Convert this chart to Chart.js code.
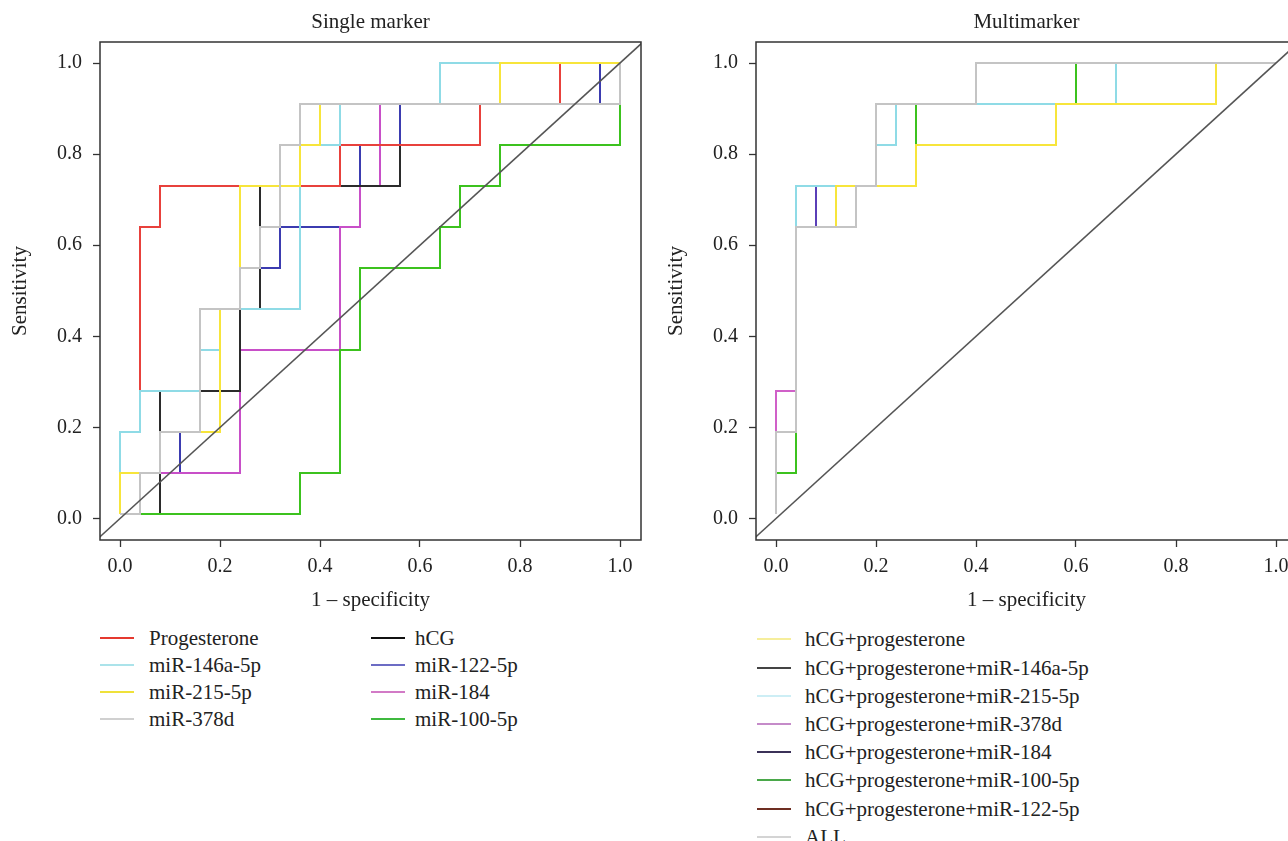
<!DOCTYPE html>
<html>
<head>
<meta charset="utf-8">
<title>ROC curves</title>
<script src="https://cdn.jsdelivr.net/npm/chart.js"></script>
<style>
  html, body { margin: 0; padding: 0; background: #fff; }
  body { position: relative; width: 1288px; height: 841px; overflow: hidden; font-family: 'Liberation Serif', 'DejaVu Serif', serif; color: #222; }
  canvas { position: absolute; top: 0; }
  #singleChart { left: 0; }
  #multiChart { left: 656px; }
  .legendRow { position: absolute; height: 26px; line-height: 26px; font-size: 21px; white-space: nowrap; }
  .legendLine { position: absolute; width: 34px; height: 0; border-top: 2px solid; }
</style>
</head>
<body>
<canvas id="singleChart" width="660" height="613"></canvas>
<canvas id="multiChart" width="660" height="613"></canvas>
<div id="singleLegend"></div>
<div id="multiLegend"></div>
<script>
'use strict';

// Axis ticks and the chance line
const tickValues = [0, 0.2, 0.4, 0.6, 0.8, 1.0];
const chanceLine = [-0.1, 1.1];

// Single marker curves: x = 1 - specificity, y = sensitivity
const singleLabels = ['Progesterone', 'miR-146a-5p', 'miR-215-5p', 'miR-378d', 'hCG', 'miR-122-5p', 'miR-184', 'miR-100-5p'];

const progesteroneX = [0, 0, 0.04, 0.04, 0.08, 0.08, 0.44, 0.44, 0.72, 0.72, 0.88, 0.88, 1];
const progesteroneY = [0.01, 0.19, 0.19, 0.64, 0.64, 0.73, 0.73, 0.82, 0.82, 0.91, 0.91, 1, 1];

const mir146aX = [0, 0, 0.04, 0.04, 0.16, 0.16, 0.2, 0.2, 0.36, 0.36, 0.44, 0.44, 0.64, 0.64, 1];
const mir146aY = [0.01, 0.19, 0.19, 0.28, 0.28, 0.37, 0.37, 0.46, 0.46, 0.82, 0.82, 0.91, 0.91, 1, 1];

const mir215X = [0, 0, 0.08, 0.08, 0.2, 0.2, 0.24, 0.24, 0.36, 0.36, 0.4, 0.4, 0.76, 0.76, 1];
const mir215Y = [0.01, 0.1, 0.1, 0.19, 0.19, 0.46, 0.46, 0.73, 0.73, 0.82, 0.82, 0.91, 0.91, 1, 1];

const mir378X = [0, 0.04, 0.04, 0.08, 0.08, 0.16, 0.16, 0.24, 0.24, 0.28, 0.28, 0.32, 0.32, 0.36, 0.36, 1, 1];
const mir378Y = [0.01, 0.01, 0.1, 0.1, 0.19, 0.19, 0.46, 0.46, 0.55, 0.55, 0.64, 0.64, 0.82, 0.82, 0.91, 0.91, 1];

const hcgX = [0, 0.08, 0.08, 0.24, 0.24, 0.28, 0.28, 0.56, 0.56, 0.72, 0.72, 1, 1];
const hcgY = [0.01, 0.01, 0.28, 0.28, 0.46, 0.46, 0.73, 0.73, 0.82, 0.82, 0.91, 0.91, 1];

const mir122X = [0, 0.08, 0.08, 0.12, 0.12, 0.16, 0.16, 0.28, 0.28, 0.32, 0.32, 0.48, 0.48, 0.56, 0.56, 0.96, 0.96, 1];
const mir122Y = [0.01, 0.01, 0.1, 0.1, 0.19, 0.19, 0.46, 0.46, 0.55, 0.55, 0.64, 0.64, 0.82, 0.82, 0.91, 0.91, 1, 1];

const mir184X = [0, 0.08, 0.08, 0.24, 0.24, 0.44, 0.44, 0.48, 0.48, 0.52, 0.52, 1, 1];
const mir184Y = [0.01, 0.01, 0.1, 0.1, 0.37, 0.37, 0.64, 0.64, 0.73, 0.73, 0.91, 0.91, 1];

const mir100X = [0, 0.36, 0.36, 0.44, 0.44, 0.48, 0.48, 0.64, 0.64, 0.68, 0.68, 0.76, 0.76, 1, 1];
const mir100Y = [0.01, 0.01, 0.1, 0.1, 0.37, 0.37, 0.55, 0.55, 0.64, 0.64, 0.73, 0.73, 0.82, 0.82, 1];

// Multimarker curves
const multiLabels = ['hCG+progesterone', 'hCG+progesterone+miR-146a-5p', 'hCG+progesterone+miR-215-5p', 'hCG+progesterone+miR-378d',
  'hCG+progesterone+miR-184', 'hCG+progesterone+miR-100-5p', 'hCG+progesterone+miR-122-5p', 'ALL'];

const hcgProgX = [0, 0, 0.04, 0.04, 0.12, 0.12, 0.28, 0.28, 0.56, 0.56, 0.88, 0.88, 1];
const hcgProgY = [0.01, 0.19, 0.19, 0.64, 0.64, 0.73, 0.73, 0.82, 0.82, 0.91, 0.91, 1, 1];

const plus146aX = [0, 0, 0.04, 0.04, 0.16, 0.16, 0.2, 0.2, 0.4, 0.4, 1];
const plus146aY = [0.01, 0.19, 0.19, 0.64, 0.64, 0.73, 0.73, 0.91, 0.91, 1, 1];

const plus215X = [0, 0, 0.04, 0.04, 0.2, 0.2, 0.24, 0.24, 0.68, 0.68, 1];
const plus215Y = [0.01, 0.19, 0.19, 0.73, 0.73, 0.82, 0.82, 0.91, 0.91, 1, 1];

const plus378X = [0, 0, 0.04, 0.04, 0.16, 0.16, 0.2, 0.2, 0.4, 0.4, 1];
const plus378Y = [0.01, 0.28, 0.28, 0.64, 0.64, 0.73, 0.73, 0.91, 0.91, 1, 1];

const plus184X = [0, 0, 0.04, 0.04, 0.08, 0.08, 0.2, 0.2, 0.4, 0.4, 1];
const plus184Y = [0.01, 0.19, 0.19, 0.64, 0.64, 0.73, 0.73, 0.91, 0.91, 1, 1];

const plus100X = [0, 0, 0.04, 0.04, 0.16, 0.16, 0.28, 0.28, 0.6, 0.6, 1];
const plus100Y = [0.01, 0.1, 0.1, 0.64, 0.64, 0.73, 0.73, 0.91, 0.91, 1, 1];

const plus122X = [0, 0, 0.04, 0.04, 0.16, 0.16, 0.2, 0.2, 0.4, 0.4, 1];
const plus122Y = [0.01, 0.19, 0.19, 0.64, 0.64, 0.73, 0.73, 0.91, 0.91, 1, 1];

const allX = [0, 0, 0.04, 0.04, 0.16, 0.16, 0.2, 0.2, 0.4, 0.4, 1];
const allY = [0.01, 0.19, 0.19, 0.64, 0.64, 0.73, 0.73, 0.91, 0.91, 1, 1];

// Styles
const fontFamily = "'Liberation Serif', 'DejaVu Serif', serif";
const textColor = '#222';
const singleLineColors = ['#e8413c', '#8fdbe6', '#f7e53b', '#c4c4c4', '#2b2b2b', '#3b3bb0', '#c84fc8', '#3cc21e'];
const singleLegendColors = ['#e5392f', '#abe3ea', '#efe13a', '#d0d0d0', '#111111', '#6c6cc4', '#d27ac6', '#3fb93f'];
const singleDrawOrder = [5, 4, 3, 1, 6, 8, 7, 2];
const multiLineColors = ['#f7e53b', '#333333', '#8fdbe6', '#d060c8', '#5a3fb8', '#3cc21e', '#7a2a20', '#c4c4c4'];
const multiLegendColors = ['#f6ee9c', '#444444', '#cdeef5', '#c58bc9', '#3b3158', '#4aa84a', '#6e2e22', '#d4d4d4'];
const multiDrawOrder = [2, 7, 3, 5, 4, 6, 8, 1];

// Axis ranges (y range chosen so the 1/11 sensitivity steps fall on whole pixels)
const xRange = [-0.04, 1.042];
const yRange = [-0.047073, 1.046098];

// Plot box and panel title
const framePlugin = {
  id: 'frame',
  afterDatasetsDraw(chart, args, opts) {
    const ctx = chart.ctx;
    const a = chart.chartArea;
    ctx.save();
    ctx.strokeStyle = '#333';
    ctx.lineWidth = 1.5;
    ctx.strokeRect(a.left, a.top, a.right - a.left, a.bottom - a.top);
    ctx.fillStyle = textColor;
    ctx.font = '21px ' + fontFamily;
    ctx.textAlign = 'center';
    ctx.textBaseline = 'middle';
    ctx.fillText(opts.title, (a.left + a.right) / 2, 22);
    ctx.restore();
  }
};

function makeDataset(label, xs, ys, color, order) {
  return {
    label: label,
    data: xs.map((x, i) => ({x: x, y: ys[i]})),
    borderColor: color,
    borderWidth: 2,
    showLine: true,
    pointRadius: 0,
    fill: false,
    order: order
  };
}

function chanceDataset() {
  return {
    label: 'chance',
    data: chanceLine.map(v => ({x: v, y: v})),
    borderColor: '#555',
    borderWidth: 1.5,
    showLine: true,
    pointRadius: 0,
    clip: 0,
    order: 0
  };
}

function makeOptions(titleText) {
  return {
    responsive: false,
    animation: false,
    events: [],
    layout: {padding: {top: 42, right: 19, bottom: 0, left: 0}},
    plugins: {
      legend: {display: false},
      tooltip: {enabled: false},
      frame: {title: titleText}
    },
    scales: {
      x: {
        type: 'linear',
        min: xRange[0],
        max: xRange[1],
        afterBuildTicks: axis => { axis.ticks = tickValues.map(v => ({value: v})); },
        afterFit: axis => { axis.height = 73; },
        grid: {drawOnChartArea: false, drawTicks: true, tickLength: 7, tickColor: '#333', tickWidth: 1.3},
        border: {display: false},
        ticks: {
          autoSkip: false, maxRotation: 0, padding: 8, color: textColor,
          font: {family: fontFamily, size: 20},
          callback: v => v.toFixed(1)
        },
        title: {display: true, text: '1 \u2013 specificity', color: textColor, font: {family: fontFamily, size: 21}, padding: {top: 0, bottom: 0}}
      },
      y: {
        type: 'linear',
        min: yRange[0],
        max: yRange[1],
        afterBuildTicks: axis => { axis.ticks = tickValues.map(v => ({value: v})); },
        afterFit: axis => { axis.width = 100; },
        grid: {drawOnChartArea: false, drawTicks: true, tickLength: 7, tickColor: '#333', tickWidth: 1.3},
        border: {display: false},
        ticks: {
          autoSkip: false, padding: 11, color: textColor,
          font: {family: fontFamily, size: 20},
          callback: v => v.toFixed(1)
        },
        title: {display: true, text: 'Sensitivity', color: textColor, font: {family: fontFamily, size: 21}, padding: {top: 8, bottom: 0}}
      }
    }
  };
}

function renderLegend(elemId, labels, colors, columns, rowsPerColumn, firstRow, rowStep) {
  const legendElem = document.getElementById(elemId);
  for (let i = 0; i < labels.length; i++) {
    const col = columns[Math.floor(i / rowsPerColumn)];
    const center = firstRow + (i % rowsPerColumn) * rowStep;
    let lineElem = document.createElement('div');
    lineElem.className = 'legendLine';
    lineElem.style.left = col.line + 'px';
    lineElem.style.top = (center - 1) + 'px';
    lineElem.style.borderTopColor = colors[i];
    legendElem.appendChild(lineElem);
    let rowElem = document.createElement('div');
    rowElem.className = 'legendRow';
    rowElem.style.left = col.text + 'px';
    rowElem.style.top = (center - 13) + 'px';
    rowElem.textContent = labels[i];
    legendElem.appendChild(rowElem);
  }
}

// Build charts
const singleXs = [progesteroneX, mir146aX, mir215X, mir378X, hcgX, mir122X, mir184X, mir100X];
const singleYs = [progesteroneY, mir146aY, mir215Y, mir378Y, hcgY, mir122Y, mir184Y, mir100Y];
const multiXs = [hcgProgX, plus146aX, plus215X, plus378X, plus184X, plus100X, plus122X, allX];
const multiYs = [hcgProgY, plus146aY, plus215Y, plus378Y, plus184Y, plus100Y, plus122Y, allY];

const singleDatasets = singleLabels.map((l, i) =>
  makeDataset(l, singleXs[i], singleYs[i], singleLineColors[i], singleDrawOrder[i]));
singleDatasets.push(chanceDataset());
const multiDatasets = multiLabels.map((l, i) =>
  makeDataset(l, multiXs[i], multiYs[i], multiLineColors[i], multiDrawOrder[i]));
multiDatasets.push(chanceDataset());

new Chart(document.getElementById('singleChart').getContext('2d'), {
  type: 'scatter',
  data: {datasets: singleDatasets},
  options: makeOptions('Single marker'),
  plugins: [framePlugin]
});

new Chart(document.getElementById('multiChart').getContext('2d'), {
  type: 'scatter',
  data: {datasets: multiDatasets},
  options: makeOptions('Multimarker'),
  plugins: [framePlugin]
});

renderLegend('singleLegend', singleLabels, singleLegendColors, [{line: 100, text: 149}, {line: 371, text: 415}], 4, 638.3, 26.9);
renderLegend('multiLegend', multiLabels, multiLegendColors, [{line: 757, text: 805}], 8, 639.3, 28.2);
</script>
</body>
</html>
